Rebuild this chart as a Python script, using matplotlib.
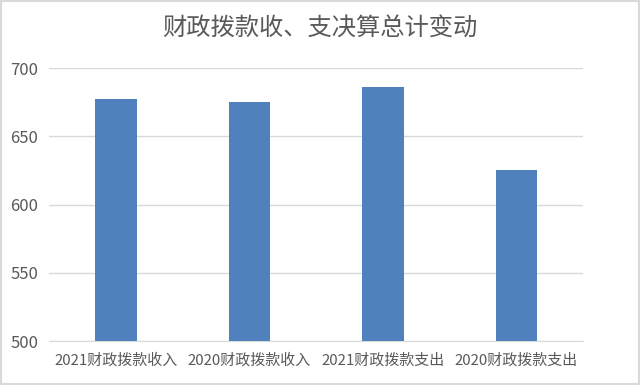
import matplotlib
matplotlib.use("Agg")
import matplotlib.pyplot as plt
from matplotlib.patches import Rectangle

plt.rcParams['font.family'] = ['Noto Sans CJK SC', 'DejaVu Sans']

categories = ["2021财政拨款收入", "2020财政拨款收入", "2021财政拨款支出", "2020财政拨款支出"]
values = [677.3, 675.3, 686.5, 625.5]
yticks = [500, 550, 600, 650, 700]
title = "财政拨款收、支决算总计变动"

fig = plt.figure(figsize=(6.4, 3.85), dpi=100)
ax = fig.add_axes([0.077, 0.114, 0.834, 0.709])

x = list(range(len(categories)))
ax.bar(x, values, width=0.31, color="#4f81bd", zorder=3)
ax.set_xlim(-0.5, len(categories) - 0.5)
ax.set_ylim(500, 700)
ax.set_yticks(yticks)
ax.set_xticks(x)
ax.set_xticklabels(categories)
ax.grid(axis='y', color="#d9d9d9", linewidth=1, zorder=0)
for s in ['top', 'right', 'left']:
    ax.spines[s].set_visible(False)
ax.spines['bottom'].set_color("#d9d9d9")
ax.tick_params(axis='both', length=0, colors="#595959")
ax.tick_params(axis='y', pad=8, labelsize=12)
ax.tick_params(axis='x', pad=9, labelsize=10.8)

fig.text(0.5, 0.925, title, ha='center', va='center', fontsize=17.5, color="#595959")

fig.patches.append(Rectangle((0.002, 0.003), 0.996, 0.994, transform=fig.transFigure,
                             fill=False, edgecolor="#d9d9d9", linewidth=1.5))

fig.savefig("out.png", dpi=100)
